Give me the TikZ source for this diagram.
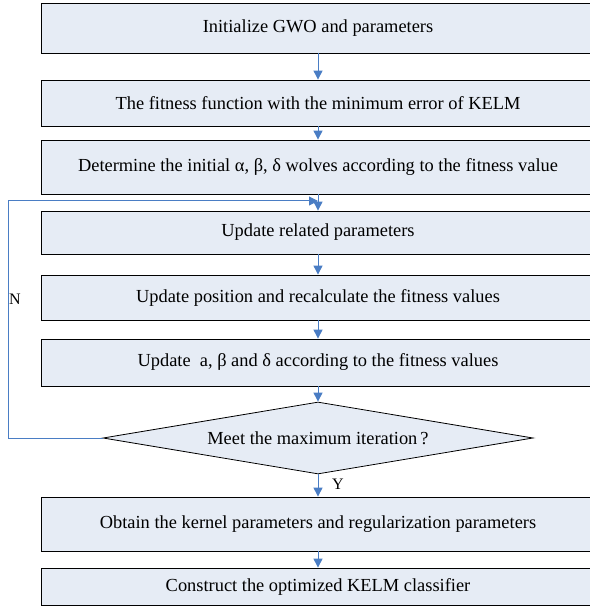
\documentclass[tikz,border=0pt]{standalone}
\usepackage{fontspec}
\setmainfont{Liberation Serif}
\usetikzlibrary{shapes.geometric,arrows.meta}
\definecolor{boxfill}{HTML}{E6ECF5}
\definecolor{arrowblue}{HTML}{4A7DC4}
\tikzset{
  stepbox/.style={draw=black,line width=0.8pt,fill=boxfill,minimum width=554pt,inner sep=0pt,font=\fontsize{18.4}{21}\selectfont},
  decide/.style={diamond,draw=black,line width=0.8pt,fill=boxfill,minimum width=430pt,minimum height=72pt,inner sep=0pt,aspect=6,font=\fontsize{18.4}{21}\selectfont},
  flow/.style={draw=arrowblue,line width=1pt,-{Triangle[width=9pt,length=9pt]}},
  lbl/.style={font=\fontsize{16}{18}\selectfont,inner sep=0pt}
}
\begin{document}
\begin{tikzpicture}[x=1pt,y=-1pt]
\useasboundingbox (0,0) rectangle (589,609);
\node[stepbox,minimum height=50pt] (b1) at (318,28) {Initialize GWO and parameters};
\node[stepbox,minimum height=46pt] (b2) at (318,103) {The fitness function with the minimum error of KELM};
\node[stepbox,minimum height=54pt] (b3) at (318,167) {Determine the initial α, β, δ wolves according to the fitness value};
\node[stepbox,minimum height=43pt] (b4) at (318,232.5) {Update related parameters};
\node[stepbox,minimum height=45pt] (b5) at (318,297.5) {Update position and recalculate the fitness values};
\node[stepbox,minimum height=47pt] (b6) at (318,362.5) {Update~~a, β and δ according to the fitness values};
\node[decide] (d) at (318,438) {Meet the maximum iteration\,?};
\node[stepbox,minimum height=54pt] (b7) at (318,524) {Obtain the kernel parameters and regularization parameters};
\node[stepbox,minimum height=37pt] (b8) at (318,586.5) {Construct the optimized KELM classifier};
\coordinate (cl) at (8,438);
\coordinate (cu) at (8,201);
\coordinate (ce) at (318,201);
\draw[flow] (b1) -- (b2);
\draw[flow] (b2) -- (b3);
\draw[flow] (b3) -- (b4);
\draw[flow] (b4) -- (b5);
\draw[flow] (b5) -- (b6);
\draw[flow] (b6) -- (d);
\draw[flow] (d) -- (b7);
\draw[flow] (b7) -- (b8);
\draw[flow] (d.west) -- (cl) -- (cu) -- (ce);
\node[lbl] (n) at (15,299) {N};
\node[lbl] (y) at (338,484) {Y};
\end{tikzpicture}
\end{document}
